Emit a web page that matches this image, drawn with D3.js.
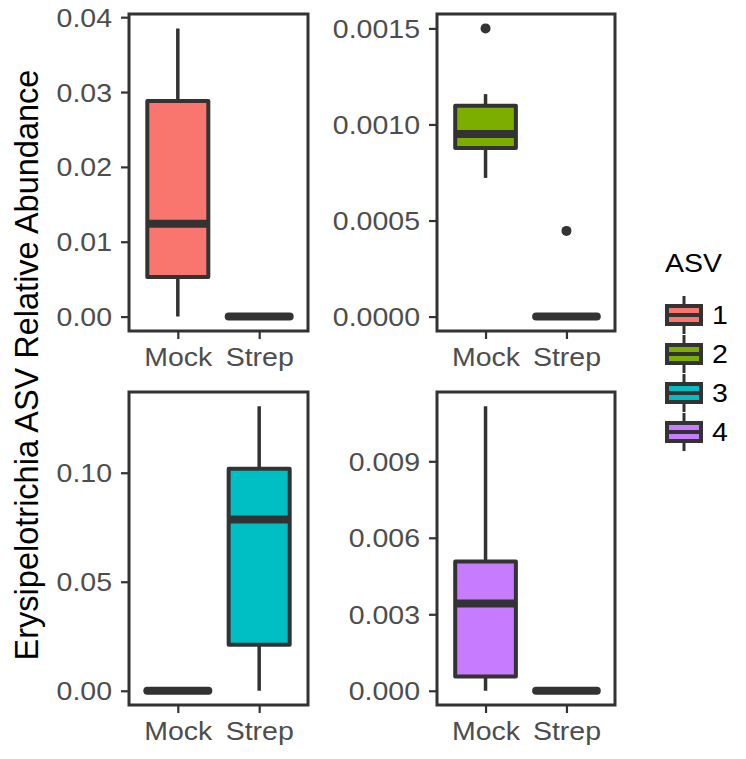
<!DOCTYPE html>
<html>
<head>
<meta charset="utf-8">
<script src="https://cdn.jsdelivr.net/npm/d3@7"></script>
<style>
  body { margin: 0; background: #fff; }
  text { font-family: Arial, "Liberation Sans", sans-serif; }
</style>
</head>
<body>
<div id="chart"></div>
<script>
// 1. data
var categories = ["Mock", "Strep"];
var asvLevels  = ["1", "2", "3", "4"];
var asvColors  = ["#F8766D", "#7CAE00", "#00BFC4", "#C77CFF"];

// [lower whisker, q1, median, q3, upper whisker] per ASV
var mockStats = [
  [0, 0.0053, 0.0124, 0.0288, 0.0385],
  [0.000722, 0.000878, 0.000950, 0.001097, 0.001158],
  [0, 0, 0, 0, 0],
  [0, 0.000557, 0.00342, 0.00507, 0.01116]
];
var strepStats = [
  [0, 0, 0, 0, 0],
  [0, 0, 0, 0, 0],
  [0, 0.0211, 0.0786, 0.1018, 0.1305],
  [0, 0, 0, 0, 0]
];
var mockOutliers  = [[], [0.0015], [], []];
var strepOutliers = [[], [0.000446], [], []];

var yTicks   = [[0, 0.01, 0.02, 0.03, 0.04], [0, 0.0005, 0.001, 0.0015], [0, 0.05, 0.10], [0, 0.003, 0.006, 0.009]];
var yFormats = [".2f", ".4f", ".2f", ".3f"];

var yTitle = "Erysipelotrichia ASV Relative Abundance";
var legendTitle = "ASV";

// 2. layout
var width = 746, height = 759;
var panels = [
  {x: 129, y: 14,  w: 179, h: 317},
  {x: 437, y: 14,  w: 178, h: 317},
  {x: 129, y: 392, w: 179, h: 313},
  {x: 437, y: 392, w: 178, h: 313}
];
var dark = "#333333";
var tickGrey = "#4D4D4D";
var stretch = "scale(1.14,1)";   // the source text is a little wide

var svg = d3.select("#chart").append("svg")
  .attr("width", width)
  .attr("height", height);

// 3. panels
asvLevels.forEach(function(asv, i) {
  var p = panels[i];
  var g = svg.append("g").attr("transform", "translate(" + p.x + "," + p.y + ")");

  var boxes = [
    {cat: categories[0], s: mockStats[i],  out: mockOutliers[i]},
    {cat: categories[1], s: strepStats[i], out: strepOutliers[i]}
  ];
  var maxV = d3.max(boxes, function(b) { return d3.max(b.s.concat(b.out)); });
  var pad = maxV * 0.05;

  var x = d3.scalePoint().domain(categories).range([0, p.w]).padding(0.6);
  var y = d3.scaleLinear().domain([-pad, maxV + pad]).range([p.h, 0]);
  var bw = x.step() * 0.75;

  // whiskers
  g.selectAll(".whisker").data(boxes).enter().append("line")
    .attr("x1", function(d) { return x(d.cat); })
    .attr("x2", function(d) { return x(d.cat); })
    .attr("y1", function(d) { return y(d.s[0]); })
    .attr("y2", function(d) { return y(d.s[4]); })
    .attr("stroke", dark)
    .attr("stroke-width", 3.5);

  // boxes
  g.selectAll(".box").data(boxes).enter().append("rect")
    .attr("x", function(d) { return x(d.cat) - bw / 2; })
    .attr("y", function(d) { return y(d.s[3]); })
    .attr("width", bw)
    .attr("height", function(d) { return y(d.s[1]) - y(d.s[3]); })
    .attr("fill", asvColors[i])
    .attr("stroke", dark)
    .attr("stroke-width", 4)
    .attr("stroke-linejoin", "round");

  // medians (flat boxes get round ends, like the source)
  g.selectAll(".median").data(boxes).enter().append("line")
    .attr("x1", function(d) { return x(d.cat) - bw / 2; })
    .attr("x2", function(d) { return x(d.cat) + bw / 2; })
    .attr("y1", function(d) { return y(d.s[2]); })
    .attr("y2", function(d) { return y(d.s[2]); })
    .attr("stroke", dark)
    .attr("stroke-width", 8)
    .attr("stroke-linecap", function(d) { return d.s[1] === d.s[3] ? "round" : "butt"; });

  // outliers
  boxes.forEach(function(b) {
    g.selectAll(null).data(b.out).enter().append("circle")
      .attr("cx", x(b.cat))
      .attr("cy", function(d) { return y(d); })
      .attr("r", 5)
      .attr("fill", dark);
  });

  // border
  g.append("rect")
    .attr("width", p.w)
    .attr("height", p.h)
    .attr("fill", "none")
    .attr("stroke", dark)
    .attr("stroke-width", 3);

  // axes
  var yAxis = g.append("g")
    .call(d3.axisLeft(y).tickValues(yTicks[i]).tickFormat(d3.format(yFormats[i])).tickSize(8).tickPadding(7));
  var xAxis = g.append("g")
    .attr("transform", "translate(0," + p.h + ")")
    .call(d3.axisBottom(x).tickSize(8).tickPadding(9));

  [yAxis, xAxis].forEach(function(a) {
    a.select(".domain").remove();
    a.selectAll(".tick line").attr("stroke", dark).attr("stroke-width", 2.2);
    a.selectAll(".tick text")
      .attr("fill", tickGrey)
      .style("font-size", "25px");
  });
  yAxis.selectAll(".tick text")
    .attr("dy", "0.36em")
    .attr("x", 0)
    .attr("transform", "translate(-17,0) " + stretch);
  xAxis.selectAll(".tick text")
    .attr("transform", stretch);
});

// 4. y title
svg.append("text")
  .attr("transform", "translate(38,365) rotate(-90)")
  .attr("text-anchor", "middle")
  .style("font-size", "32.5px")
  .attr("fill", "#000")
  .text(yTitle);

// 5. legend
var legend = svg.append("g").attr("transform", "translate(665,0)");
legend.append("text")
  .attr("transform", "translate(0,272) " + stretch)
  .style("font-size", "25px")
  .attr("fill", "#000")
  .text(legendTitle);

var ly = d3.scalePoint().domain(asvLevels).range([315, 432]);
var key = legend.selectAll(".key").data(asvLevels).enter().append("g")
  .attr("transform", function(d) { return "translate(0," + ly(d) + ")"; });

key.append("line")
  .attr("x1", 19).attr("x2", 19)
  .attr("y1", -19).attr("y2", 19)
  .attr("stroke", dark).attr("stroke-width", 3);
key.append("rect")
  .attr("x", 2).attr("y", -9)
  .attr("width", 34).attr("height", 18)
  .attr("fill", function(d, i) { return asvColors[i]; })
  .attr("stroke", dark).attr("stroke-width", 4);
key.append("line")
  .attr("x1", 2).attr("x2", 36)
  .attr("y1", 0).attr("y2", 0)
  .attr("stroke", dark).attr("stroke-width", 4);
key.append("text")
  .attr("transform", "translate(47,0) " + stretch)
  .attr("dy", "0.36em")
  .style("font-size", "25px")
  .attr("fill", "#000")
  .text(function(d) { return d; });
</script>
</body>
</html>
